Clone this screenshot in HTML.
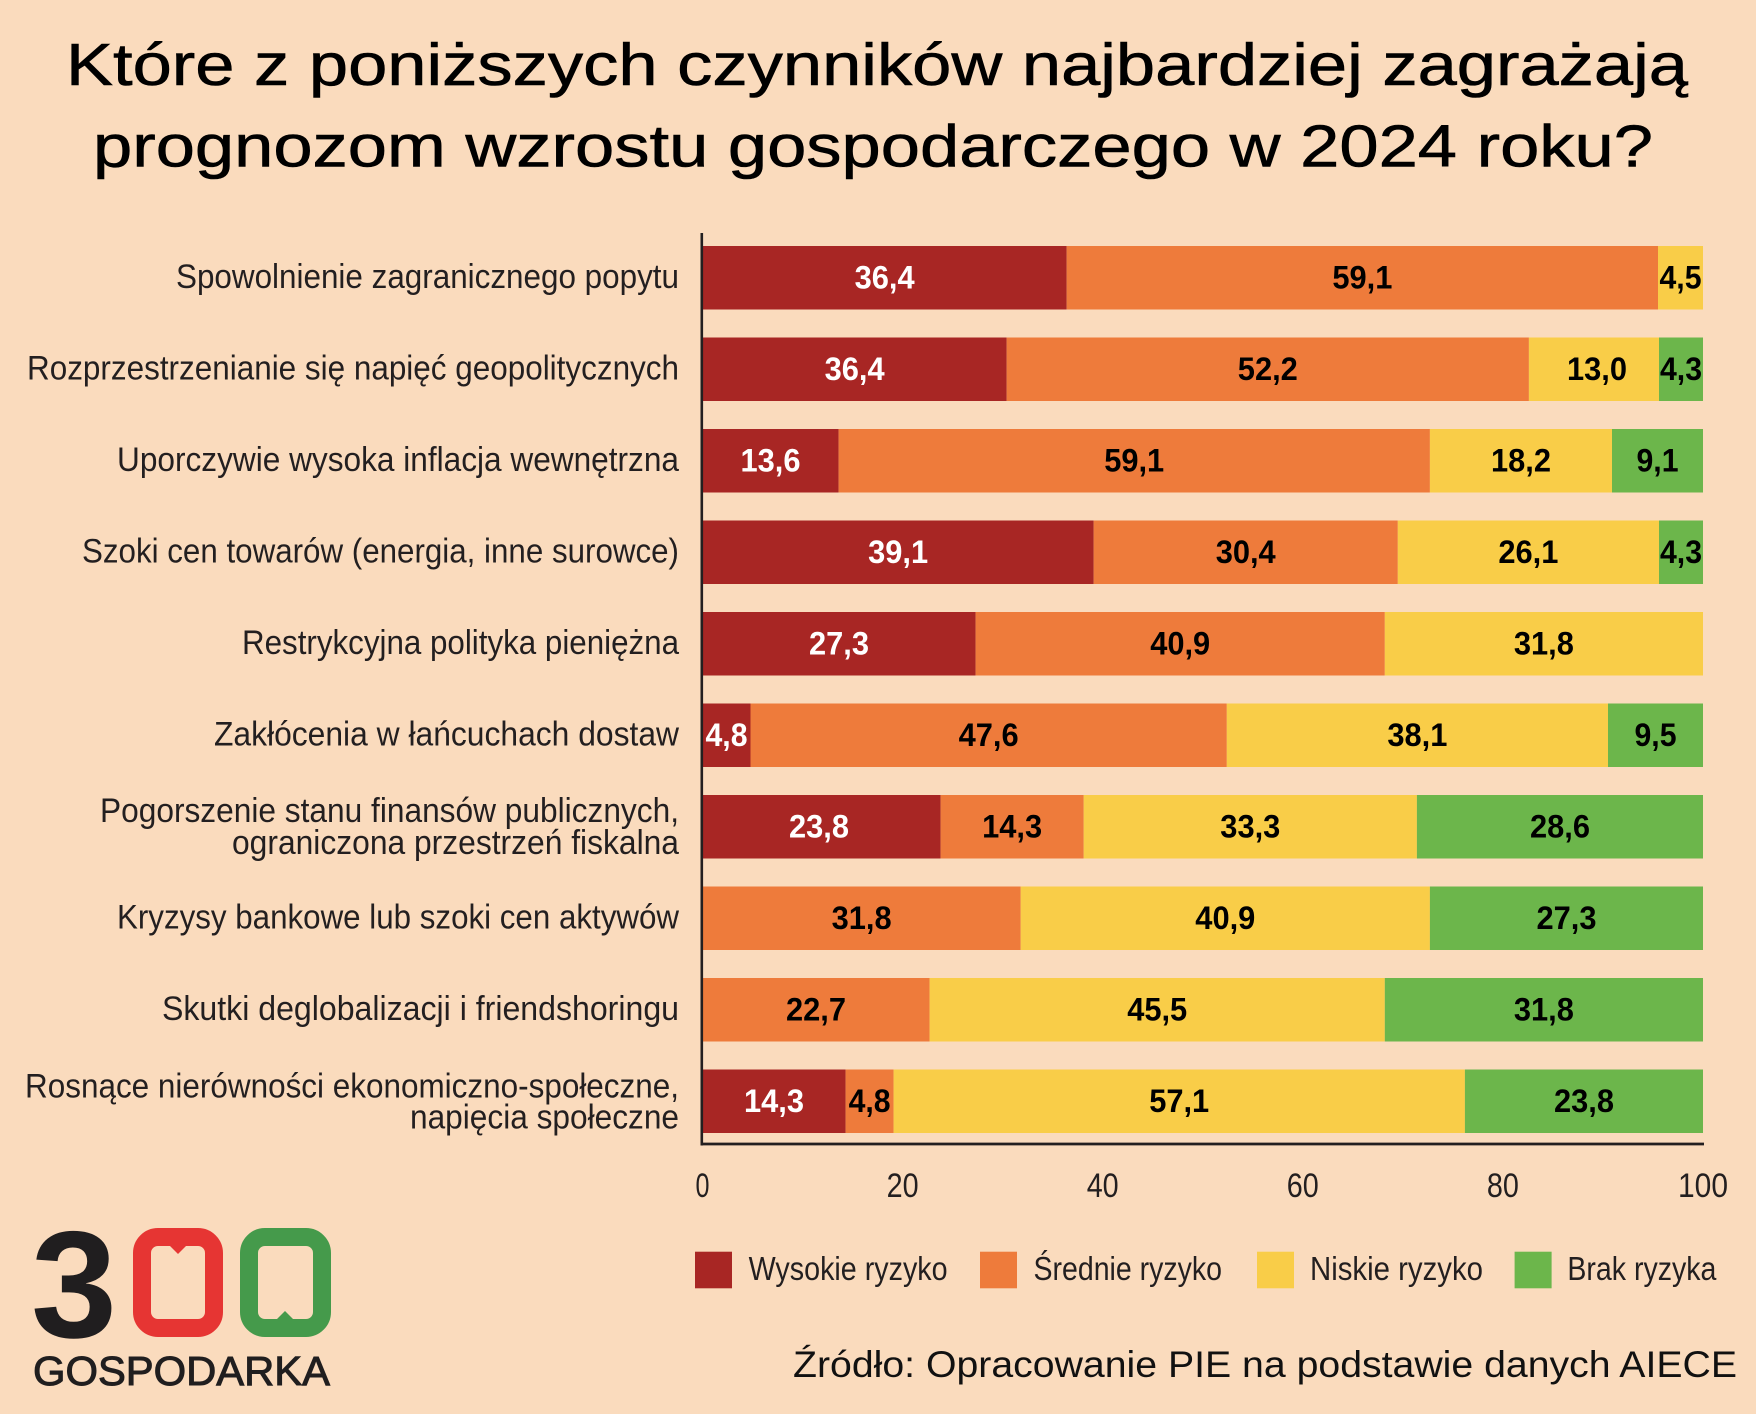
<!DOCTYPE html>
<html>
<head>
<meta charset="utf-8">
<style>
  html, body { margin: 0; padding: 0; background: #fadbbd; }
  svg { display: block; }
  text { font-family: "Liberation Sans", "DejaVu Sans", sans-serif; }
  .lbl { font-size: 34px; fill: #231f20; text-anchor: end; }
  .val { font-size: 32px; font-weight: bold; text-anchor: middle; fill: #000; }
  .w { fill: #fff; }
  .tick { font-size: 34px; fill: #231f20; text-anchor: middle; }
  .leg { font-size: 33px; fill: #231f20; }
</style>
</head>
<body>
<svg width="1756" height="1414" viewBox="0 0 1756 1414" xmlns="http://www.w3.org/2000/svg">
  <rect x="0" y="0" width="1756" height="1414" fill="#fadbbd"/>

  <!-- Title -->
  <text x="66" y="85" font-size="59" fill="#000" stroke="#000" stroke-width="0.6" textLength="1622" lengthAdjust="spacingAndGlyphs">Które z poniższych czynników najbardziej zagrażają</text>
  <text x="93" y="166.7" font-size="59" fill="#000" stroke="#000" stroke-width="0.6" textLength="1560" lengthAdjust="spacingAndGlyphs">prognozom wzrostu gospodarczego w 2024 roku?</text>

  <!-- Category labels -->
  <text class="lbl" x="679" y="288" textLength="503" lengthAdjust="spacingAndGlyphs">Spowolnienie zagranicznego popytu</text>
  <text class="lbl" x="679" y="379.5" textLength="652" lengthAdjust="spacingAndGlyphs">Rozprzestrzenianie się napięć geopolitycznych</text>
  <text class="lbl" x="679" y="471" textLength="562" lengthAdjust="spacingAndGlyphs">Uporczywie wysoka inflacja wewnętrzna</text>
  <text class="lbl" x="679" y="562.5" textLength="597" lengthAdjust="spacingAndGlyphs">Szoki cen towarów (energia, inne surowce)</text>
  <text class="lbl" x="679" y="654" textLength="437" lengthAdjust="spacingAndGlyphs">Restrykcyjna polityka pieniężna</text>
  <text class="lbl" x="679" y="745.5" textLength="465" lengthAdjust="spacingAndGlyphs">Zakłócenia w łańcuchach dostaw</text>
  <text class="lbl" x="679" y="822" textLength="579" lengthAdjust="spacingAndGlyphs">Pogorszenie stanu finansów publicznych,</text>
  <text class="lbl" x="679" y="854" textLength="447" lengthAdjust="spacingAndGlyphs">ograniczona przestrzeń fiskalna</text>
  <text class="lbl" x="679" y="928.5" textLength="562" lengthAdjust="spacingAndGlyphs">Kryzysy bankowe lub szoki cen aktywów</text>
  <text class="lbl" x="679" y="1020" textLength="517" lengthAdjust="spacingAndGlyphs">Skutki deglobalizacji i friendshoringu</text>
  <text class="lbl" x="679" y="1097.5" textLength="654" lengthAdjust="spacingAndGlyphs">Rosnące nierówności ekonomiczno-społeczne,</text>
  <text class="lbl" x="679" y="1128.5" textLength="269" lengthAdjust="spacingAndGlyphs">napięcia społeczne</text>

  <!-- Bars -->
  <g>
    <rect x="702.5" y="246" width="364.2" height="63.5" fill="#a82624"/>
    <rect x="1066.7" y="246" width="591.3" height="63.5" fill="#ee7b3b"/>
    <rect x="1658" y="246" width="45" height="63.5" fill="#f9cd48"/>

    <rect x="702.5" y="337.5" width="304.2" height="63.5" fill="#a82624"/>
    <rect x="1006.7" y="337.5" width="522.2" height="63.5" fill="#ee7b3b"/>
    <rect x="1528.9" y="337.5" width="130.1" height="63.5" fill="#f9cd48"/>
    <rect x="1659" y="337.5" width="44" height="63.5" fill="#6cb64b"/>

    <rect x="702.5" y="429" width="136.1" height="63.5" fill="#a82624"/>
    <rect x="838.6" y="429" width="591.3" height="63.5" fill="#ee7b3b"/>
    <rect x="1429.9" y="429" width="182.1" height="63.5" fill="#f9cd48"/>
    <rect x="1612" y="429" width="91" height="63.5" fill="#6cb64b"/>

    <rect x="702.5" y="520.5" width="391.2" height="63.5" fill="#a82624"/>
    <rect x="1093.7" y="520.5" width="304.1" height="63.5" fill="#ee7b3b"/>
    <rect x="1397.8" y="520.5" width="261.2" height="63.5" fill="#f9cd48"/>
    <rect x="1659" y="520.5" width="44" height="63.5" fill="#6cb64b"/>

    <rect x="702.5" y="612" width="273.1" height="63.5" fill="#a82624"/>
    <rect x="975.6" y="612" width="409.2" height="63.5" fill="#ee7b3b"/>
    <rect x="1384.8" y="612" width="318.2" height="63.5" fill="#f9cd48"/>

    <rect x="702.5" y="703.5" width="48" height="63.5" fill="#a82624"/>
    <rect x="750.5" y="703.5" width="476.3" height="63.5" fill="#ee7b3b"/>
    <rect x="1226.8" y="703.5" width="381.2" height="63.5" fill="#f9cd48"/>
    <rect x="1608" y="703.5" width="95" height="63.5" fill="#6cb64b"/>

    <rect x="702.5" y="795" width="238.1" height="63.5" fill="#a82624"/>
    <rect x="940.6" y="795" width="143.1" height="63.5" fill="#ee7b3b"/>
    <rect x="1083.7" y="795" width="333.2" height="63.5" fill="#f9cd48"/>
    <rect x="1416.9" y="795" width="286.1" height="63.5" fill="#6cb64b"/>

    <rect x="702.5" y="886.5" width="318.2" height="63.5" fill="#ee7b3b"/>
    <rect x="1020.7" y="886.5" width="409.2" height="63.5" fill="#f9cd48"/>
    <rect x="1429.9" y="886.5" width="273.1" height="63.5" fill="#6cb64b"/>

    <rect x="702.5" y="978" width="227.1" height="63.5" fill="#ee7b3b"/>
    <rect x="929.6" y="978" width="455.2" height="63.5" fill="#f9cd48"/>
    <rect x="1384.8" y="978" width="318.2" height="63.5" fill="#6cb64b"/>

    <rect x="702.5" y="1069.5" width="143.1" height="63.5" fill="#a82624"/>
    <rect x="845.6" y="1069.5" width="48" height="63.5" fill="#ee7b3b"/>
    <rect x="893.6" y="1069.5" width="571.3" height="63.5" fill="#f9cd48"/>
    <rect x="1464.9" y="1069.5" width="238.1" height="63.5" fill="#6cb64b"/>
  </g>

  <!-- Value labels -->
  <g>
    <text class="val w" x="884.6" y="288.5" textLength="60" lengthAdjust="spacingAndGlyphs">36,4</text>
    <text class="val" x="1362.4" y="288.5" textLength="60" lengthAdjust="spacingAndGlyphs">59,1</text>
    <text class="val" x="1680.5" y="288.5" textLength="42" lengthAdjust="spacingAndGlyphs">4,5</text>

    <text class="val w" x="854.6" y="380" textLength="60" lengthAdjust="spacingAndGlyphs">36,4</text>
    <text class="val" x="1267.8" y="380" textLength="60" lengthAdjust="spacingAndGlyphs">52,2</text>
    <text class="val" x="1597" y="380" textLength="60" lengthAdjust="spacingAndGlyphs">13,0</text>
    <text class="val" x="1681" y="380" textLength="42" lengthAdjust="spacingAndGlyphs">4,3</text>

    <text class="val w" x="770.5" y="471.5" textLength="60" lengthAdjust="spacingAndGlyphs">13,6</text>
    <text class="val" x="1134.2" y="471.5" textLength="60" lengthAdjust="spacingAndGlyphs">59,1</text>
    <text class="val" x="1521" y="471.5" textLength="60" lengthAdjust="spacingAndGlyphs">18,2</text>
    <text class="val" x="1657.5" y="471.5" textLength="42" lengthAdjust="spacingAndGlyphs">9,1</text>

    <text class="val w" x="898.1" y="563" textLength="60" lengthAdjust="spacingAndGlyphs">39,1</text>
    <text class="val" x="1245.7" y="563" textLength="60" lengthAdjust="spacingAndGlyphs">30,4</text>
    <text class="val" x="1528.4" y="563" textLength="60" lengthAdjust="spacingAndGlyphs">26,1</text>
    <text class="val" x="1681" y="563" textLength="42" lengthAdjust="spacingAndGlyphs">4,3</text>

    <text class="val w" x="839" y="654.5" textLength="60" lengthAdjust="spacingAndGlyphs">27,3</text>
    <text class="val" x="1180.2" y="654.5" textLength="60" lengthAdjust="spacingAndGlyphs">40,9</text>
    <text class="val" x="1543.9" y="654.5" textLength="60" lengthAdjust="spacingAndGlyphs">31,8</text>

    <text class="val w" x="726.5" y="746" textLength="42" lengthAdjust="spacingAndGlyphs">4,8</text>
    <text class="val" x="988.6" y="746" textLength="60" lengthAdjust="spacingAndGlyphs">47,6</text>
    <text class="val" x="1417.4" y="746" textLength="60" lengthAdjust="spacingAndGlyphs">38,1</text>
    <text class="val" x="1655.5" y="746" textLength="42" lengthAdjust="spacingAndGlyphs">9,5</text>

    <text class="val w" x="819" y="837.5" textLength="60" lengthAdjust="spacingAndGlyphs">23,8</text>
    <text class="val" x="1012.1" y="837.5" textLength="60" lengthAdjust="spacingAndGlyphs">14,3</text>
    <text class="val" x="1250.3" y="837.5" textLength="60" lengthAdjust="spacingAndGlyphs">33,3</text>
    <text class="val" x="1560" y="837.5" textLength="60" lengthAdjust="spacingAndGlyphs">28,6</text>

    <text class="val" x="861.6" y="929" textLength="60" lengthAdjust="spacingAndGlyphs">31,8</text>
    <text class="val" x="1225.3" y="929" textLength="60" lengthAdjust="spacingAndGlyphs">40,9</text>
    <text class="val" x="1566.5" y="929" textLength="60" lengthAdjust="spacingAndGlyphs">27,3</text>

    <text class="val" x="816" y="1020.5" textLength="60" lengthAdjust="spacingAndGlyphs">22,7</text>
    <text class="val" x="1157.2" y="1020.5" textLength="60" lengthAdjust="spacingAndGlyphs">45,5</text>
    <text class="val" x="1543.9" y="1020.5" textLength="60" lengthAdjust="spacingAndGlyphs">31,8</text>

    <text class="val w" x="774" y="1112" textLength="60" lengthAdjust="spacingAndGlyphs">14,3</text>
    <text class="val" x="869.6" y="1112" textLength="42" lengthAdjust="spacingAndGlyphs">4,8</text>
    <text class="val" x="1179.2" y="1112" textLength="60" lengthAdjust="spacingAndGlyphs">57,1</text>
    <text class="val" x="1584" y="1112" textLength="60" lengthAdjust="spacingAndGlyphs">23,8</text>
  </g>

  <!-- Axes -->
  <line x1="701.8" y1="233" x2="701.8" y2="1145.5" stroke="#231f20" stroke-width="2.6"/>
  <line x1="700.5" y1="1144" x2="1704" y2="1144" stroke="#231f20" stroke-width="2.8"/>

  <!-- Tick labels -->
  <text class="tick" x="702.5" y="1197" textLength="14" lengthAdjust="spacingAndGlyphs">0</text>
  <text class="tick" x="902.6" y="1197" textLength="32" lengthAdjust="spacingAndGlyphs">20</text>
  <text class="tick" x="1102.7" y="1197" textLength="32" lengthAdjust="spacingAndGlyphs">40</text>
  <text class="tick" x="1302.8" y="1197" textLength="32" lengthAdjust="spacingAndGlyphs">60</text>
  <text class="tick" x="1502.9" y="1197" textLength="32" lengthAdjust="spacingAndGlyphs">80</text>
  <text class="tick" x="1703" y="1197" textLength="50" lengthAdjust="spacingAndGlyphs">100</text>

  <!-- Legend -->
  <rect x="695" y="1251.7" width="37" height="36.6" fill="#a82624"/>
  <text class="leg" x="748.6" y="1280" textLength="199" lengthAdjust="spacingAndGlyphs">Wysokie ryzyko</text>
  <rect x="980" y="1251.7" width="37" height="36.6" fill="#ee7b3b"/>
  <text class="leg" x="1033.5" y="1280" textLength="188.5" lengthAdjust="spacingAndGlyphs">Średnie ryzyko</text>
  <rect x="1257" y="1251.7" width="37" height="36.6" fill="#f9cd48"/>
  <text class="leg" x="1310" y="1280" textLength="173" lengthAdjust="spacingAndGlyphs">Niskie ryzyko</text>
  <rect x="1514.6" y="1251.7" width="37" height="36.6" fill="#6cb64b"/>
  <text class="leg" x="1567.4" y="1280" textLength="149" lengthAdjust="spacingAndGlyphs">Brak ryzyka</text>

  <!-- Source -->
  <text x="793" y="1377" font-size="37" fill="#111" textLength="944" lengthAdjust="spacingAndGlyphs">Źródło: Opracowanie PIE na podstawie danych AIECE</text>

  <!-- Logo -->
  <text x="31" y="1337" font-size="152" font-weight="bold" fill="#201e1f" textLength="86" lengthAdjust="spacingAndGlyphs">3</text>
  <rect x="142" y="1237" width="72" height="91" rx="16" ry="16" fill="none" stroke="#e63533" stroke-width="18"/>
  <polygon points="169,1245 187,1245 178,1254" fill="#e63533"/>
  <rect x="249" y="1237" width="73" height="91" rx="16" ry="16" fill="none" stroke="#459a4b" stroke-width="18"/>
  <polygon points="276,1320 294,1320 285,1311" fill="#459a4b"/>
  <text x="33" y="1385" font-size="41" fill="#201e1f" stroke="#201e1f" stroke-width="1" textLength="297" lengthAdjust="spacingAndGlyphs">GOSPODARKA</text>
</svg>
</body>
</html>
